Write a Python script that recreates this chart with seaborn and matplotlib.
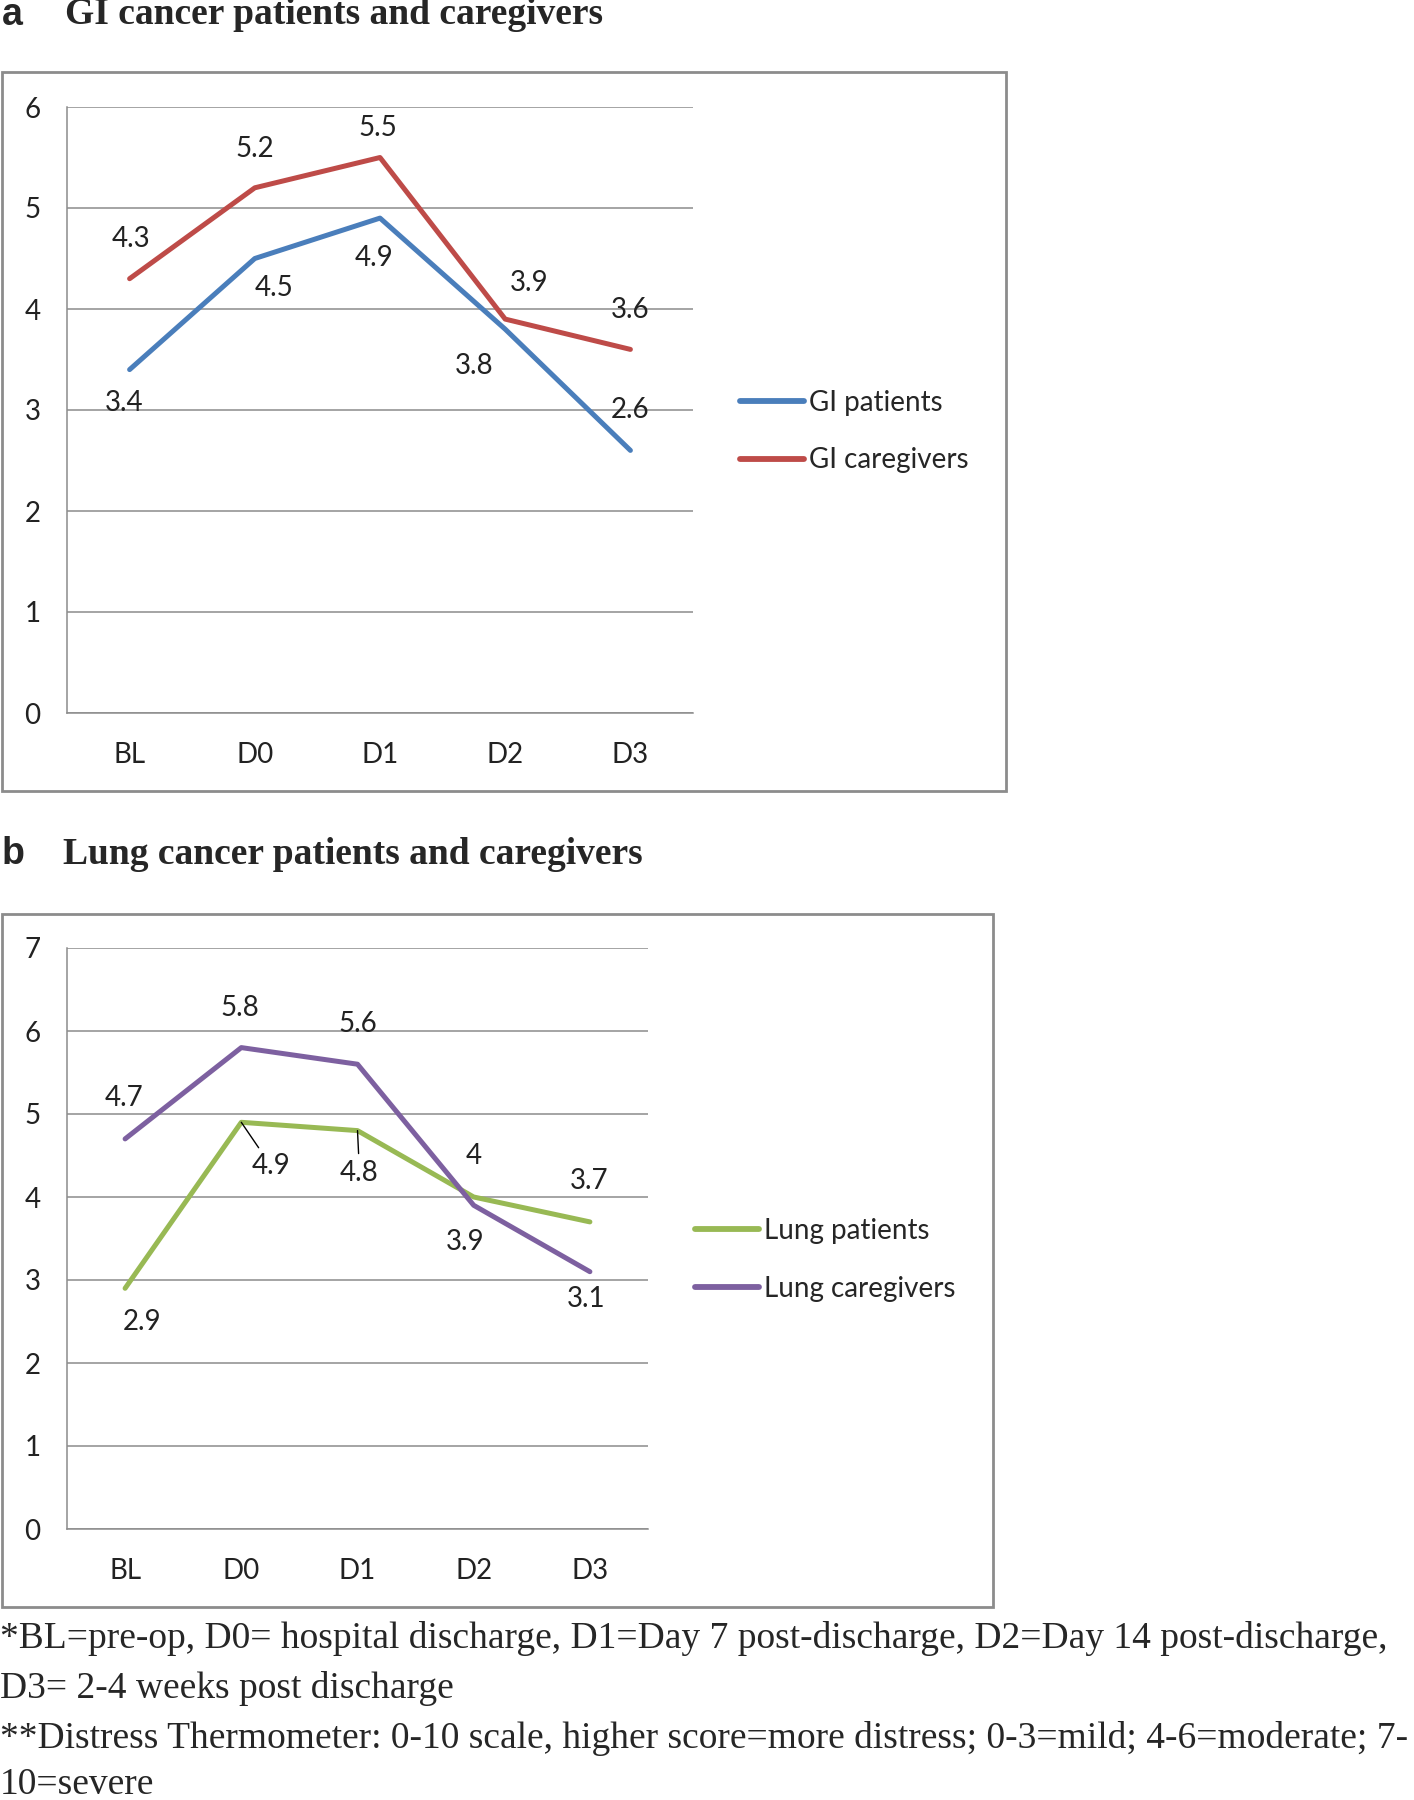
import matplotlib
matplotlib.use('Agg')
import matplotlib.pyplot as plt
import matplotlib.patches as patches
import pandas as pd
import seaborn as sns

# time points and Distress Thermometer means
timepoints = ['BL', 'D0', 'D1', 'D2', 'D3']
gi_patients = [3.4, 4.5, 4.9, 3.8, 2.6]
gi_caregivers = [4.3, 5.2, 5.5, 3.9, 3.6]
lung_patients = [2.9, 4.9, 4.8, 4.0, 3.7]
lung_caregivers = [4.7, 5.8, 5.6, 3.9, 3.1]
gi_groups = ['GI patients', 'GI caregivers']
lung_groups = ['Lung patients', 'Lung caregivers']

footnotes = ['*BL=pre-op, D0= hospital discharge, D1=Day 7 post-discharge, D2=Day 14 post-discharge,',
             'D3= 2-4 weeks post discharge',
             '**Distress Thermometer: 0-10 scale, higher score=more distress; 0-3=mild; 4-6=moderate; 7-',
             '10=severe']

sns.set_style('white')
plt.rcParams['font.family'] = ['Lato', 'DejaVu Sans']

W, H = 1414, 1800
fig = plt.figure(figsize=(W / 100, H / 100), dpi=100)
FS = 20


def long_df(groups, series):
    rows = []
    for g, vals in zip(groups, series):
        for t, v in zip(timepoints, vals):
            rows.append({'Time': t, 'Score': v, 'Group': g})
    return pd.DataFrame(rows)


def draw_panel(rect, groups, series, colors, ymax, offsets, leaders, legend_xy):
    ax = fig.add_axes(rect)
    df = long_df(groups, series)
    sns.lineplot(data=df, x='Time', y='Score', hue='Group', hue_order=groups,
                 palette=dict(zip(groups, colors)), linewidth=3.6, ax=ax, sort=False)
    ax.set_xlim(-0.5, 4.5)
    ax.set_ylim(0, ymax)
    ax.set_yticks(range(ymax + 1))
    ax.set_xlabel('')
    ax.set_ylabel('')
    ax.yaxis.grid(True, color='#8c8c8c', linewidth=1.1)
    ax.xaxis.grid(False)
    for s in ['top', 'right']:
        ax.spines[s].set_visible(False)
    for s in ['left', 'bottom']:
        ax.spines[s].set_color('#8c8c8c')
        ax.spines[s].set_linewidth(1.1)
    ax.set_xticks([i - 0.5 for i in range(6)], minor=True)
    ax.tick_params(axis='x', which='major', length=0, pad=21, labelsize=FS, labelcolor='#222222')
    ax.tick_params(axis='x', which='minor', length=9, width=1.1, color='#8c8c8c', direction='out')
    ax.tick_params(axis='y', which='major', length=6, width=1.1, color='#8c8c8c', direction='out',
                   pad=13, labelsize=FS, labelcolor='#222222')
    # data labels
    for si, vals in enumerate(series):
        for ti, v in enumerate(vals):
            dx, dy = offsets[si][ti]
            kw = {}
            if (si, ti) in leaders:
                kw['arrowprops'] = dict(arrowstyle='-', color='black', lw=1, shrinkA=2, shrinkB=0)
            ax.annotate(f'{v:g}', xy=(timepoints[ti], v), xytext=(dx, dy), textcoords='offset pixels',
                        ha='center', va='center', fontsize=FS, color='#222222', **kw)
    leg = ax.legend(loc='center left', bbox_to_anchor=legend_xy, bbox_transform=fig.transFigure,
                    frameon=False, fontsize=FS, handlelength=2.3, handletextpad=0.2,
                    labelspacing=1.15, borderpad=0, borderaxespad=0)
    for line in leg.get_lines():
        line.set_linewidth(4.2)
    return ax


def frame(x0, y0, x1, y1):
    fig.add_artist(patches.Rectangle((x0 / W, 1 - y1 / H), (x1 - x0) / W, (y1 - y0) / H,
                                     transform=fig.transFigure, fill=False,
                                     edgecolor='#8c8c8c', linewidth=2))


# panel a
frame(2, 72, 1006, 791)
draw_panel([67 / W, 1 - 713 / H, (693 - 67) / W, (713 - 107) / H], gi_groups,
           [gi_patients, gi_caregivers], ['#4A7EBB', '#BE4B48'], 6,
           [[(-5, -33), (19, -30), (-6, -40), (-31, -37), (0, 40)],
            [(1, 40), (0, 39), (-2, 29), (24, 36), (0, 39)]],
           [], (740 / W, 1 - 431.5 / H))

# panel b
frame(2, 914, 993, 1607)
draw_panel([67 / W, 1 - 1529 / H, (648 - 67) / W, (1529 - 948) / H], lung_groups,
           [lung_patients, lung_caregivers], ['#98B954', '#7D60A0'], 7,
           [[(17, -34), (30, -44), (2, -42), (0, 41), (-1, 41)],
            [(-1, 41), (-1, 40), (0, 40), (-9, -37), (-4, -27)]],
           [(0, 1), (0, 2)], (695 / W, 1 - 1260 / H))

# panel titles
TS = 27
fig.text(2 / W, 1 - 15 / H, 'a', fontsize=TS, fontweight='bold', family='Liberation Sans',
         va='center', ha='left')
fig.text(65 / W, 1 - 15 / H, 'GI cancer patients and caregivers', fontsize=TS, fontweight='bold',
         family='Liberation Serif', va='center', ha='left')
fig.text(2 / W, 1 - 854 / H, 'b', fontsize=TS, fontweight='bold', family='Liberation Sans',
         va='center', ha='left')
fig.text(63 / W, 1 - 854 / H, 'Lung cancer patients and caregivers', fontsize=TS, fontweight='bold',
         family='Liberation Serif', va='center', ha='left')

# footnotes
for yy, line in zip([1638, 1688, 1738, 1785], footnotes):
    fig.text(0 / W, 1 - yy / H, line, fontsize=27, family='Liberation Serif', va='center', ha='left')

fig.savefig('out.png', dpi=100)
